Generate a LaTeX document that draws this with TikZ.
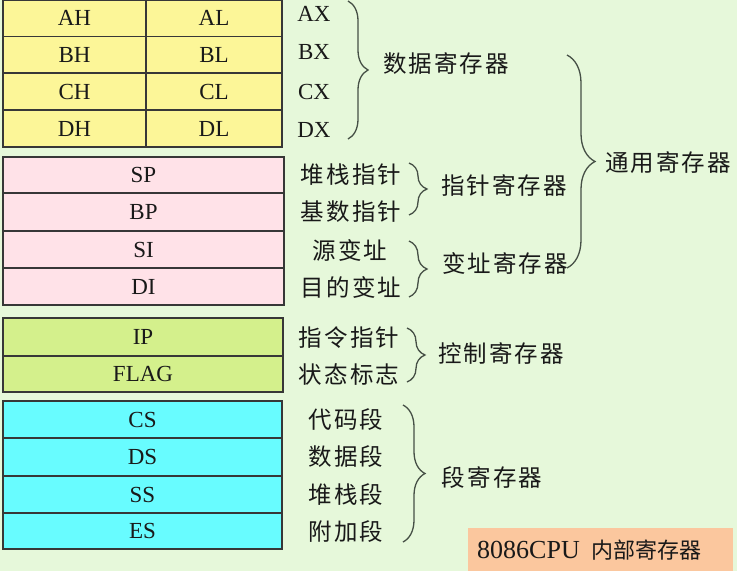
\documentclass[tikz,border=0pt]{standalone}
\usepackage{fontspec}
\setmainfont{Liberation Serif}
\newfontfamily\cjk[LetterSpace=9]{Noto Sans CJK SC}
\usetikzlibrary{decorations.pathreplacing}
\definecolor{bg}{RGB}{230,248,218}
\definecolor{cyel}{RGB}{252,246,152}
\definecolor{cpink}{RGB}{255,226,232}
\definecolor{cgreen}{RGB}{212,240,140}
\definecolor{ccyan}{RGB}{104,252,255}
\definecolor{corange}{RGB}{251,199,158}
\definecolor{cellline}{RGB}{55,55,55}
\definecolor{txt}{RGB}{25,25,25}
\definecolor{brc}{RGB}{70,80,70}
\newcommand\cellnode[7]{%
  \pgfmathsetmacro\cw{#4-#2}\pgfmathsetmacro\ch{#5-#3}%
  \node[cell,#6,minimum width=\cw pt,minimum height=\ch pt] (#1) at ({(#2+#4)/2},{(#3+#5)/2}) {#7};}
\begin{document}
\begin{tikzpicture}[x=1pt,y=-1pt,
  cell/.style={draw=cellline, line width=1.2pt, inner sep=0pt, text=txt, font=\fontsize{23}{23}\selectfont},
  lat/.style={inner sep=0pt, text=txt, font=\fontsize{23}{23}\selectfont},
  zh/.style={inner sep=0pt, text=txt, font=\cjk\fontsize{23.5}{24}\selectfont},
  br/.style={draw=brc, line width=1.3pt, decorate},
]
\useasboundingbox (0,0) rectangle (737,571);
\fill[bg] (0,0) rectangle (737,571);

% yellow data registers
\cellnode{ah}{3}{0}{146}{36.5}{fill=cyel}{AH}
\cellnode{al}{146}{0}{282}{36.5}{fill=cyel}{AL}
\cellnode{bh}{3}{36.5}{146}{73}{fill=cyel}{BH}
\cellnode{bl}{146}{36.5}{282}{73}{fill=cyel}{BL}
\cellnode{ch}{3}{73}{146}{110}{fill=cyel}{CH}
\cellnode{cl}{146}{73}{282}{110}{fill=cyel}{CL}
\cellnode{dh}{3}{110}{146}{147}{fill=cyel}{DH}
\cellnode{dl}{146}{110}{282}{147}{fill=cyel}{DL}

% pink pointer / index registers
\cellnode{sp}{3}{157}{284}{193}{fill=cpink}{SP}
\cellnode{bp}{3}{193}{284}{231}{fill=cpink}{BP}
\cellnode{si}{3}{231}{284}{268}{fill=cpink}{SI}
\cellnode{di}{3}{268}{284}{305}{fill=cpink}{DI}

% green control registers
\cellnode{ip}{3}{318}{283}{356}{fill=cgreen}{IP}
\cellnode{flag}{3}{356}{283}{392}{fill=cgreen}{FLAG}

% cyan segment registers
\cellnode{cs}{3}{401}{282}{438}{fill=ccyan}{CS}
\cellnode{ds}{3}{438}{282}{476}{fill=ccyan}{DS}
\cellnode{ss}{3}{476}{282}{513}{fill=ccyan}{SS}
\cellnode{es}{3}{513}{282}{549}{fill=ccyan}{ES}

% right-side names
\node[lat] (ax) at (314,14) {AX};
\node[lat] (bx) at (314,52) {BX};
\node[lat] (cx) at (314,92) {CX};
\node[lat] (dx) at (314,130) {DX};

\node[zh] (sjjcq) at (446,64) {数据寄存器};
\node[zh] (tyjcq) at (668,163) {通用寄存器};
\node[zh] (dzzz) at (351,175) {堆栈指针};
\node[zh] (jszz) at (351,212) {基数指针};
\node[zh] (ybz) at (350,250) {源变址};
\node[zh] (mdbz) at (351,287) {目的变址};
\node[zh] (zzjcq) at (504,185) {指针寄存器};
\node[zh] (bzjcq) at (505,263) {变址寄存器};
\node[zh] (zlzz) at (349,338) {指令指针};
\node[zh] (ztbz) at (349,375) {状态标志};
\node[zh] (kzjcq) at (501,353) {控制寄存器};
\node[zh] (dmd) at (346,420) {代码段};
\node[zh] (sjd) at (346,457) {数据段};
\node[zh] (dzd) at (346,495) {堆栈段};
\node[zh] (fjd) at (346,532) {附加段};
\node[zh] (djcq) at (492,478) {段寄存器};

% braces
\coordinate (b1t) at (348,1);   \coordinate (b1b) at (348,139);
\coordinate (b2t) at (409,163); \coordinate (b2b) at (409,215);
\coordinate (b3t) at (409,241); \coordinate (b3b) at (409,297);
\coordinate (b4t) at (567,55);  \coordinate (b4b) at (567,268);
\coordinate (b5t) at (407,328); \coordinate (b5b) at (407,382);
\coordinate (b6t) at (403,405); \coordinate (b6b) at (403,542);
\draw[br, decoration={brace,amplitude=20pt}] (b1t) -- (b1b);
\draw[br, decoration={brace,amplitude=18pt}] (b2t) -- (b2b);
\draw[br, decoration={brace,amplitude=18pt}] (b3t) -- (b3b);
\draw[br, decoration={brace,amplitude=28pt}] (b4t) -- (b4b);
\draw[br, decoration={brace,amplitude=18pt}] (b5t) -- (b5b);
\draw[br, decoration={brace,amplitude=22pt}] (b6t) -- (b6b);

% caption box
\node[fill=corange, inner sep=0pt, minimum width=265pt, minimum height=43pt] (title) at (600.5,549.5) {};
\node[inner sep=0pt, anchor=west, text=txt] (titletext) at (477,550)
  {\fontsize{26}{26}\selectfont 8086CPU\hspace{0.45em}{\cjk\addfontfeature{LetterSpace=0}\fontsize{22}{22}\selectfont 内部寄存器}};
\end{tikzpicture}
\end{document}
